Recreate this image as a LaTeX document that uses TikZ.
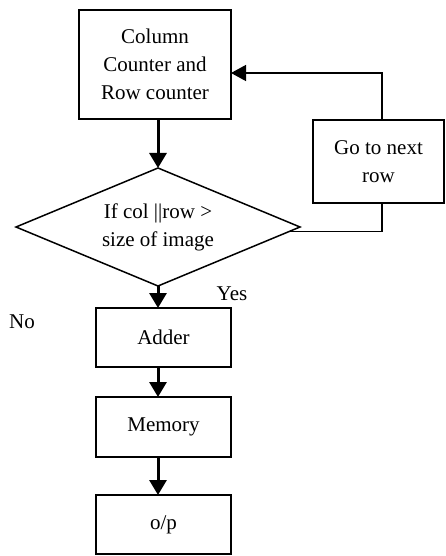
\documentclass[tikz,border=0pt]{standalone}
\usepackage{fontspec}
\setmainfont{Liberation Serif}
\usetikzlibrary{shapes.geometric,arrows.meta,positioning}

\begin{document}
\begin{tikzpicture}[
    x=1pt, y=1pt,
    font=\fontsize{21}{28}\selectfont,
    block/.style={rectangle, draw, line width=1.5pt, minimum width=135pt, minimum height=59pt, align=center, inner sep=0pt, outer sep=0pt},
    decision/.style={diamond, draw, line width=1.5pt, aspect=2.4, minimum width=284pt, minimum height=118pt, align=center, inner sep=0pt, outer sep=0pt},
    arrow/.style={-{Triangle[width=17pt,length=15pt]}, line width=3pt},
    loopline/.style={line width=1.4pt},
    loop/.style={-{Triangle[width=16pt,length=15pt]}, line width=1.4pt}
]
\useasboundingbox (0,0) rectangle (445,-556);

% Main column
\node[block, minimum width=152pt, minimum height=109pt] (cnt) at (155,-64.5) {
    Column\\
    Counter and\\
    Row counter
};
\node[decision, below=49pt of cnt, xshift=3pt] (dec) {
    If col ||row >\\
    size of image
};
\node[block, below=22pt of dec, xshift=5.5pt] (add) {Adder};
\node[block, below=30pt of add, minimum height=60pt] (mem) {Memory};
\node[block, below=38pt of mem, minimum height=59pt] (out) {o/p};

% Side box on the right
\node[block, minimum width=131pt, minimum height=83pt] (next) at (378.5,-161.5) {
    Go to next\\
    row
};

% Arrows down the column
\draw[arrow] (cnt.south -| dec.north) -- (dec.north);
\draw[arrow] (dec.south) -- (dec.south |- add.north);
\draw[arrow] (add.south -| dec.south) -- (dec.south |- mem.north);
\draw[arrow] (mem.south -| dec.south) -- (dec.south |- out.north);

% Loop back to the counter
\draw[loopline] (dec.-2) -| ([xshift=3.5pt]next.south);
\draw[loop] ([xshift=3.5pt]next.north) |- ([yshift=-8.5pt]cnt.east);

% Branch labels
\node (yes) at (232,-294) {Yes};
\node (no) at (22,-322) {No};

\end{tikzpicture}
\end{document}
